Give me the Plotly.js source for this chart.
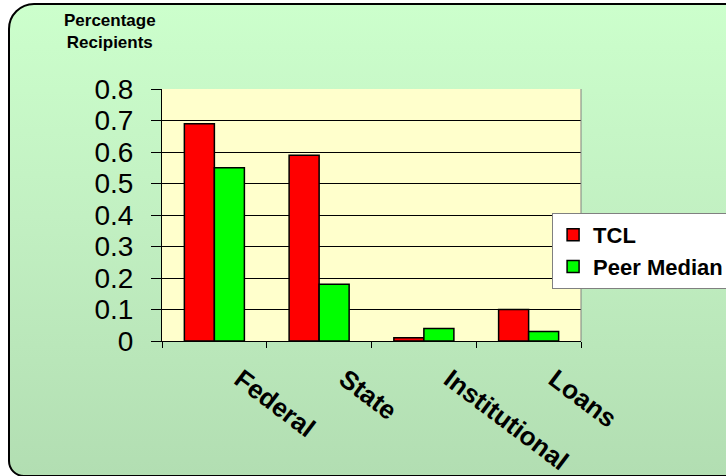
<!DOCTYPE html>
<html>
<head>
<meta charset="utf-8">
<script src="https://cdn.plot.ly/plotly-3.0.1.min.js"></script>
<style>
  html, body { margin:0; padding:0; width:726px; height:476px; overflow:hidden; background:#ffffff; }
  #frame { position:absolute; left:8px; top:3px; width:730px; height:470px;
    border:2px solid #000; border-radius:26px 0 0 16px;
    background:linear-gradient(to bottom, #CCFFCC 0%, #C2F0C2 45%, #B2DEB2 100%); }
  #chart { position:absolute; left:0; top:0; width:726px; height:476px; }
</style>
</head>
<body>
<div id="frame"></div>
<div id="chart"></div>
<script>
const categories = ["Federal", "State", "Institutional", "Loans"];
const tclValues = [0.69, 0.59, 0.01, 0.10];
const peerValues = [0.55, 0.18, 0.04, 0.03];
const yTickValues = [0, 0.1, 0.2, 0.3, 0.4, 0.5, 0.6, 0.7, 0.8];
const yTickLabels = ["0", "0.1", "0.2", "0.3", "0.4", "0.5", "0.6", "0.7", "0.8"];
const seriesNames = ["TCL", "Peer Median"];
const axisTitle = "Percentage<br>Recipients";

const FONT = "Arial, 'Liberation Sans', sans-serif";

const traces = [
  { type:"bar", x:categories, y:tclValues, name:seriesNames[0], legendgroup:"a",
    marker:{ color:"#FF0000", line:{ color:"#000000", width:1.5 } }, hoverinfo:"skip" },
  { type:"bar", x:categories, y:peerValues, name:seriesNames[1], legendgroup:"b",
    marker:{ color:"#00FF00", line:{ color:"#000000", width:1.5 } }, hoverinfo:"skip" }
];

const layout = {
  width:726, height:476,
  margin:{ l:162, r:145, t:89, b:135, autoexpand:false },
  paper_bgcolor:"rgba(0,0,0,0)",
  plot_bgcolor:"#FFFFCC",
  barmode:"group", bargap:0.427, bargroupgap:0,
  font:{ family:FONT, color:"#000" },
  xaxis:{
    type:"category", showgrid:false, showline:true, linecolor:"#000", linewidth:1,
    ticks:"outside", ticklen:6, tickcolor:"#000", tickson:"boundaries",
    tickangle:37, tickfont:{ family:FONT, size:26, weight:"bold", color:"#000" },
    ticklabelshift:26, ticklabelstandoff:12, automargin:false,
    fixedrange:true
  },
  yaxis:{
    range:[0, 0.8], tickvals:yTickValues, ticktext:yTickLabels,
    showgrid:true, gridcolor:"#000", gridwidth:1,
    showline:true, linecolor:"#000", linewidth:1,
    ticks:"outside", ticklen:10, tickcolor:"#000",
    tickfont:{ family:FONT, size:28, color:"#000" },
    ticklabelstandoff:12, zeroline:false, automargin:false, fixedrange:true
  },
  showlegend:true,
  legend:{
    x:0.931, xanchor:"left", y:0.508, yanchor:"top",
    bgcolor:"#FFFFFF", bordercolor:"#808080", borderwidth:1,
    font:{ family:FONT, size:22, weight:"bold", color:"#000" },
    tracegroupgap:0, itemwidth:30
  },
  shapes:[
    { type:"line", xref:"paper", yref:"paper", x0:1, x1:1, y0:0, y1:1,
      line:{ color:"#808080", width:1 } }
  ],
  annotations:[
    { text:axisTitle, xref:"paper", yref:"paper", x:-0.124, y:1.23,
      xanchor:"center", yanchor:"middle", showarrow:false, align:"center",
      font:{ family:FONT, size:17, weight:"bold", color:"#000" } }
  ]
};

Plotly.newPlot("chart", traces, layout, { displayModeBar:false, staticPlot:true });
</script>
</body>
</html>
